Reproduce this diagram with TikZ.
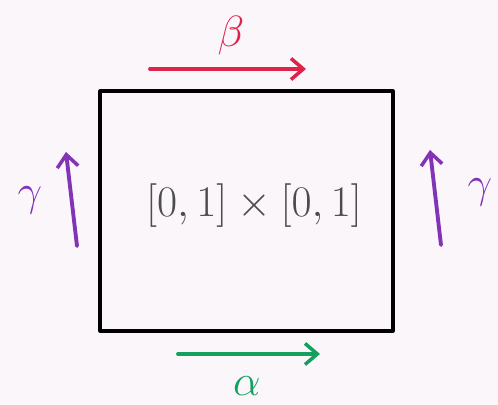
\documentclass[tikz,border=0pt]{standalone}
\usetikzlibrary{arrows.meta}
\definecolor{paper}{RGB}{250,246,250}
\definecolor{penred}{RGB}{222,34,72}
\definecolor{pengreen}{RGB}{20,160,95}
\definecolor{penpurple}{RGB}{130,52,182}
\definecolor{pengray}{RGB}{75,75,80}
\tikzset{
  edgearrow/.style={line width=2.2pt,-{Straight Barb[length=7pt,width=12pt,line width=2pt]}},
  edgelabel/.style={font=\fontsize{34}{36}\selectfont}
}

\begin{document}
\begin{tikzpicture}[x=0.02cm,y=-0.02cm,line cap=round,line join=round]
  \fill[paper] (0,0) rectangle (498,405);
  \useasboundingbox (0,0) rectangle (498,405);
  % the square
  \draw[line width=1.8pt] (100,91) rectangle (393,331);
  \node[pengray,font=\fontsize{27}{30}\selectfont] (sq) at (254,206) {$[0,1]\times[0,1]$};
  % top edge
  \coordinate (b0) at (150,69);
  \coordinate (b1) at (306,69);
  \draw[edgearrow,penred] (b0) -- (b1);
  \node[edgelabel,penred] (beta) at (231,36) {$\beta$};
  % bottom edge
  \coordinate (a0) at (178,354);
  \coordinate (a1) at (320,354);
  \draw[edgearrow,pengreen] (a0) -- (a1);
  \node[edgelabel,pengreen] (alpha) at (247,386) {$\alpha$};
  % left edge
  \coordinate (l0) at (77,246);
  \coordinate (l1) at (66,152);
  \draw[edgearrow,penpurple] (l0) -- (l1);
  \node[edgelabel,penpurple] (gl) at (30,200) {$\gamma$};
  % right edge
  \coordinate (r0) at (441,245);
  \coordinate (r1) at (430,150);
  \draw[edgearrow,penpurple] (r0) -- (r1);
  \node[edgelabel,penpurple] (gr) at (480,192) {$\gamma$};
\end{tikzpicture}
\end{document}
